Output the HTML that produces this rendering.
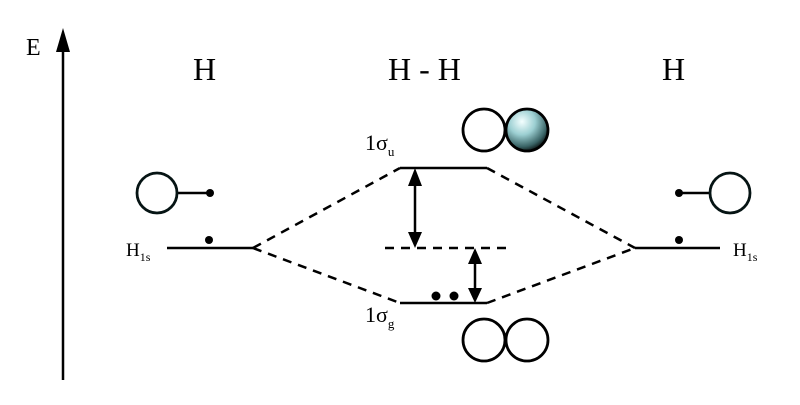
<!DOCTYPE html>
<html><head><style>body{margin:0;background:#fff}svg text{font-family:"Liberation Serif","Times New Roman",serif}</style></head><body>
<svg width="800" height="400" xmlns="http://www.w3.org/2000/svg">
<defs>
<radialGradient id="g" cx="0.38" cy="0.3" r="0.7">
<stop offset="0" stop-color="#f4ffff"/><stop offset="0.45" stop-color="#9ccfd2"/><stop offset="0.85" stop-color="#3a6466"/><stop offset="1" stop-color="#152424"/>
</radialGradient>
</defs>
<line x1="63" y1="380" x2="63" y2="40" stroke="#000" stroke-width="2.5"/>
<path d="M56,52 L63,28 L70,52 Z" fill="#000"/>
<text x="26" y="55" font-size="24">E</text>
<text x="193" y="80" font-size="32">H</text>
<text x="388" y="80" font-size="32">H - H</text>
<text x="662" y="80" font-size="32">H</text>
<g stroke="#000" stroke-width="2.5" fill="none">
<line x1="167" y1="248" x2="253" y2="248"/>
<line x1="635" y1="248" x2="720" y2="248"/>
<line x1="400" y1="168" x2="487" y2="168"/>
<line x1="400" y1="303" x2="487" y2="303"/>
<g stroke-dasharray="9,7">
<line x1="253" y1="248" x2="400" y2="168"/>
<line x1="253" y1="248" x2="400" y2="303"/>
<line x1="487" y1="168" x2="635" y2="248"/>
<line x1="487" y1="303" x2="635" y2="248"/>
<line x1="385" y1="248" x2="510" y2="248"/>
</g>
<line x1="415" y1="185" x2="415" y2="232"/>
<line x1="475" y1="262" x2="475" y2="290"/>
<line x1="212" y1="193" x2="177" y2="193"/>
<line x1="678" y1="193" x2="710" y2="193"/>
<circle cx="157" cy="193" r="20" stroke="#061414" stroke-width="2.8" fill="#fff"/>
<circle cx="730" cy="193" r="20" stroke="#061414" stroke-width="2.8" fill="#fff"/>
<circle cx="484" cy="130" r="21" stroke-width="2.8" fill="#fff"/>
<circle cx="527" cy="130" r="21" stroke-width="2.8" fill="url(#g)"/>
<circle cx="484" cy="340" r="21" stroke-width="2.8" fill="#fff"/>
<circle cx="527" cy="340" r="21" stroke-width="2.8" fill="#fff"/>
</g>
<path d="M408,186 L415,168 L422,186 Z M408,232 L415,248 L422,232 Z" fill="#000"/>
<path d="M468,264 L475,248 L482,264 Z M468,288 L475,303 L482,288 Z" fill="#000"/>
<g fill="#000">
<circle cx="210" cy="193" r="4"/><circle cx="209" cy="240" r="4"/>
<circle cx="679" cy="193" r="4"/><circle cx="679" cy="240" r="4"/>
<circle cx="436" cy="296" r="4.5"/><circle cx="454" cy="296" r="4.5"/>
</g>
<text x="126" y="256" font-size="19">H<tspan font-size="12" dy="5">1s</tspan></text>
<text x="733" y="256" font-size="19">H<tspan font-size="12" dy="5">1s</tspan></text>
<text x="365" y="150" font-size="22">1σ<tspan font-size="13" dy="6">u</tspan></text>
<text x="365" y="322" font-size="22">1σ<tspan font-size="13" dy="6">g</tspan></text>
</svg>
</body></html>
